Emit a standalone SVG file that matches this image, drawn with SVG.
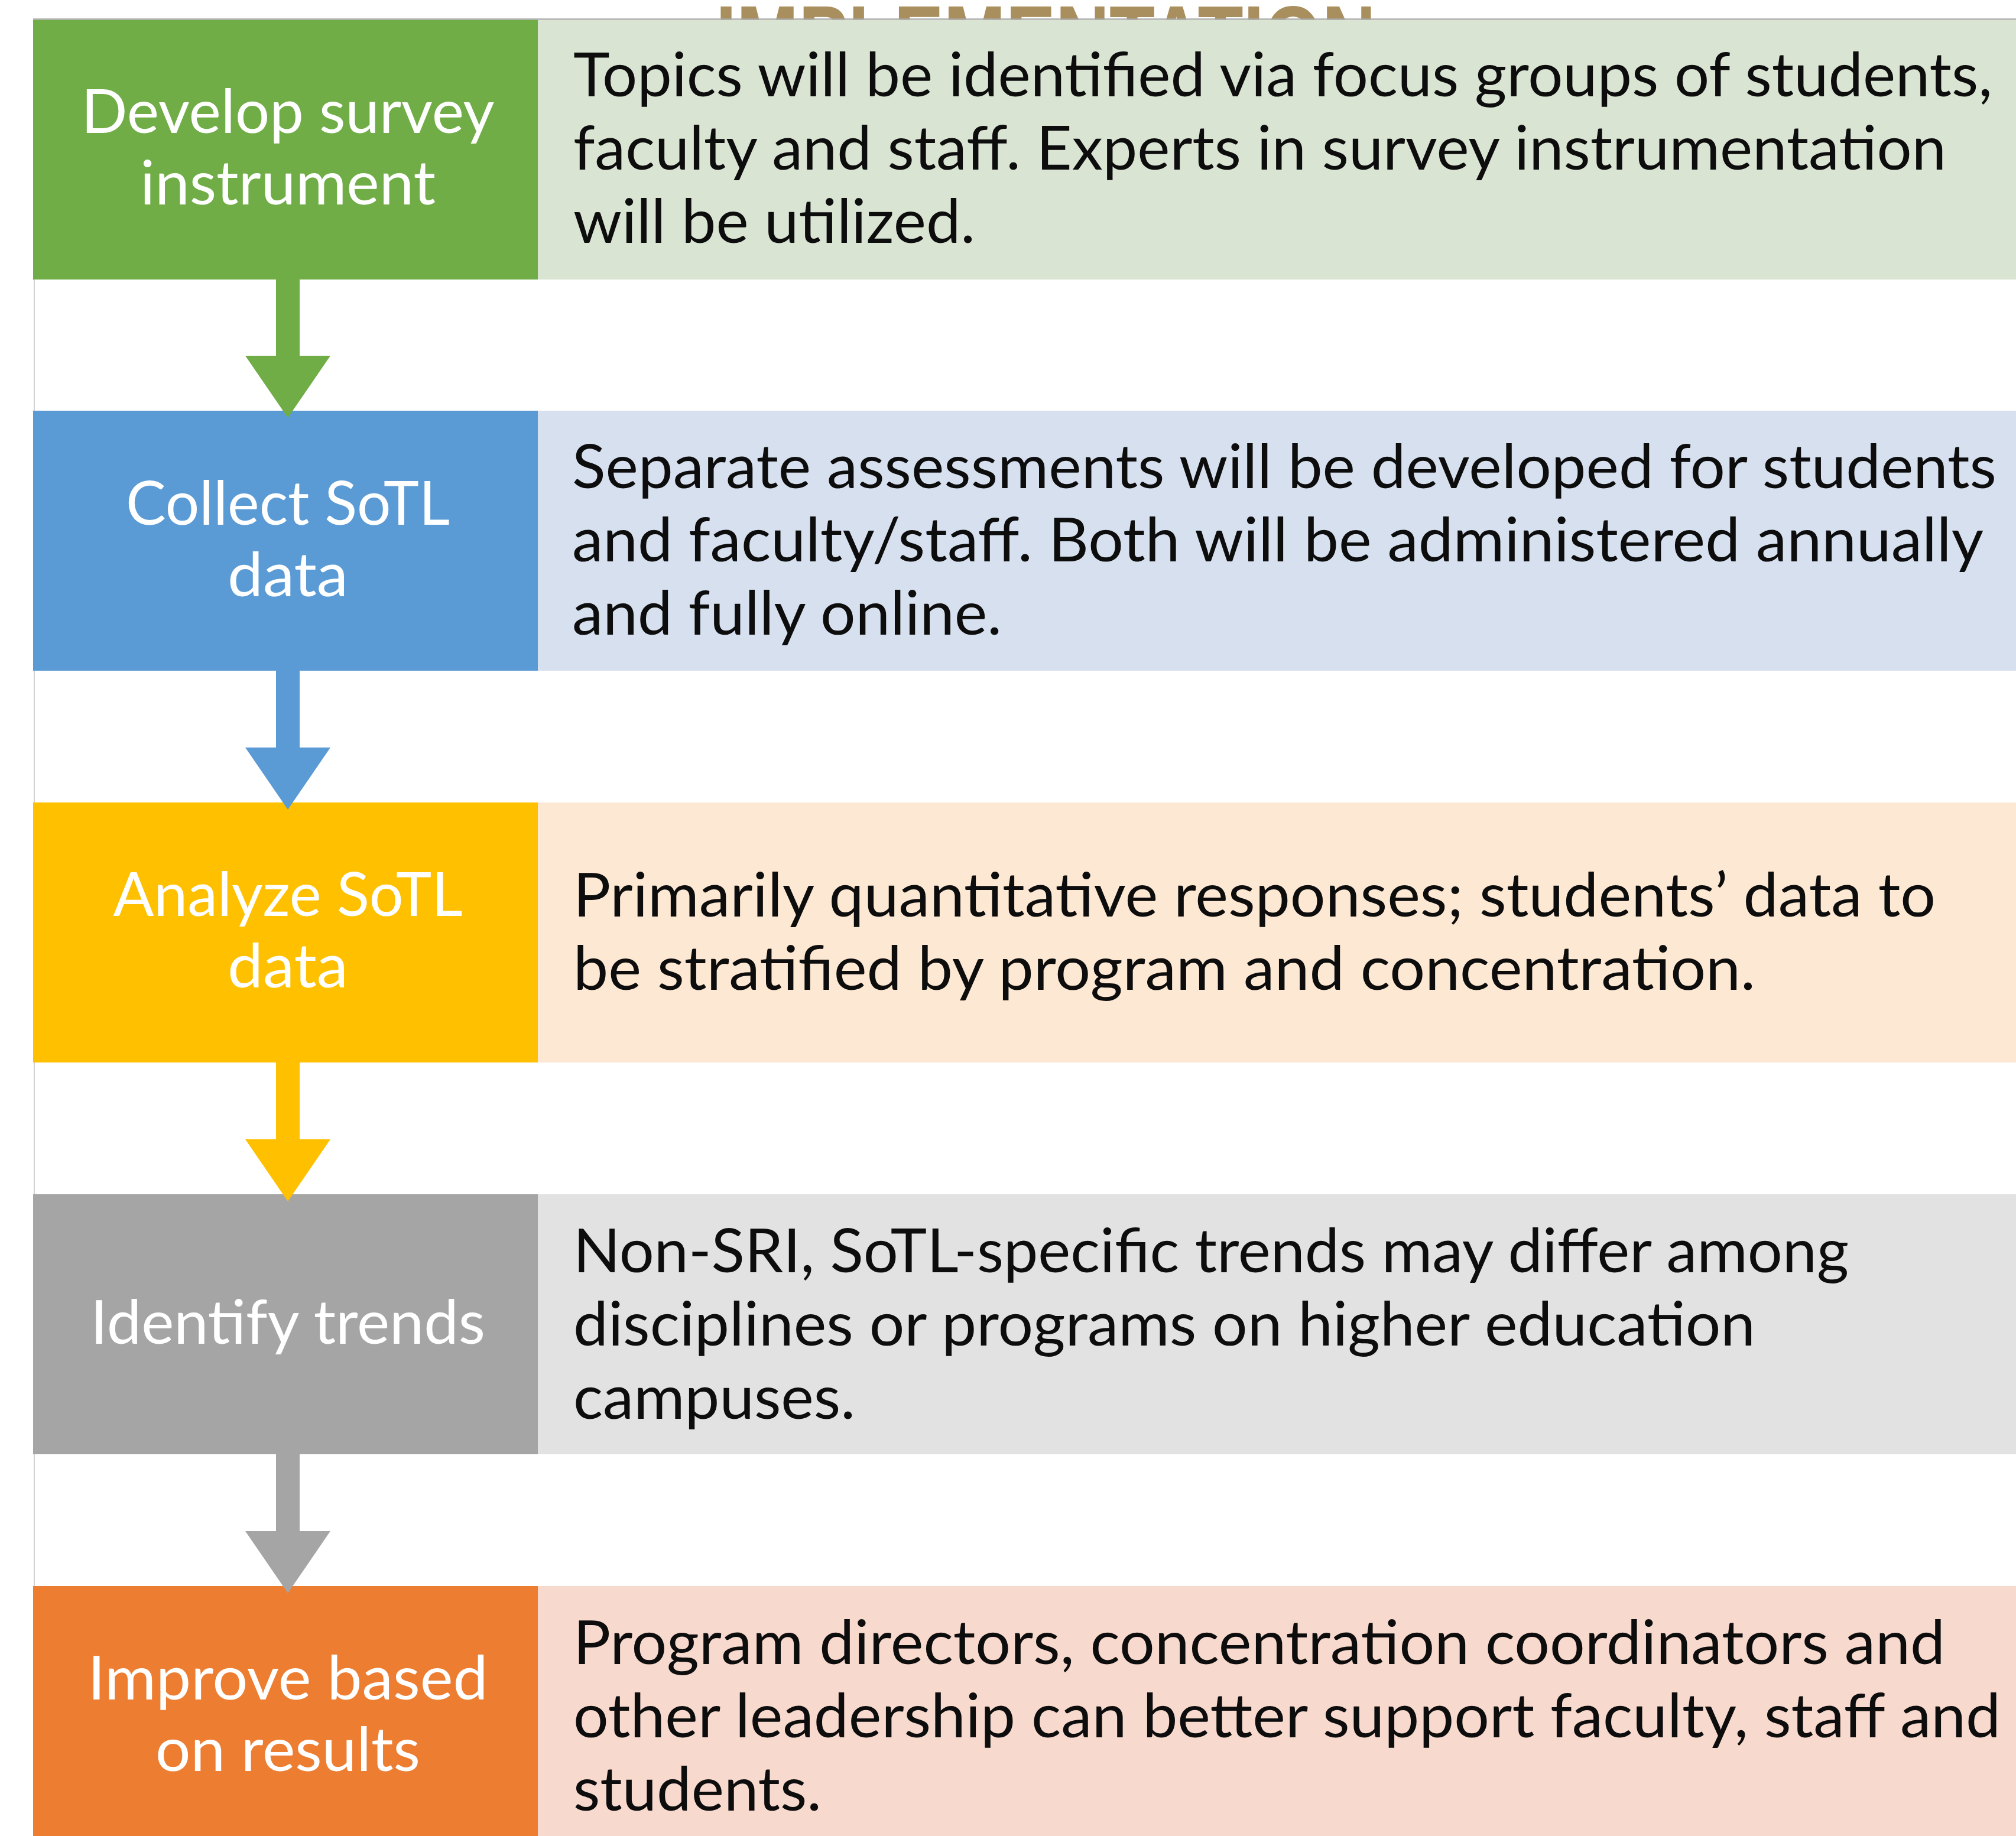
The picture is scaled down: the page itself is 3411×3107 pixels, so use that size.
<svg xmlns="http://www.w3.org/2000/svg" width="3411" height="3107" viewBox="0 0 3411 3107">
  <style>
    .lbl{font-family:Lato,"Open Sans","Liberation Sans",sans-serif;font-size:102px;fill:#ffffff;text-anchor:middle}
    .desc{font-family:Lato,"Open Sans","Liberation Sans",sans-serif;font-size:102px;fill:#0d0d0d}
    .title{font-family:"Liberation Sans",Arial,sans-serif;font-weight:bold;font-size:160px;fill:#a98f5d}
    .frame{stroke:#d2d2d2;stroke-width:2;fill:none}
  </style>
  <defs>
    <clipPath id="titleClip"><rect x="0" y="0" width="3411" height="33"/></clipPath>
  </defs>

  <rect x="0" y="0" width="3411" height="3107" fill="#ffffff"/>

  <!-- heading, mostly hidden behind the table -->
  <text class="title" x="1211" y="121" textLength="1117" lengthAdjust="spacingAndGlyphs" clip-path="url(#titleClip)">IMPLEMENTATION</text>

  <!-- left frame edge -->
  <line class="frame" x1="58" y1="33" x2="58" y2="3107"/>

  <g id="step1">
    <rect x="56" y="33" width="854" height="440" fill="#70ad47"/>
    <rect x="910" y="33" width="2501" height="440" fill="#d9e4d3"/>
    <text class="lbl" x="487" y="225" textLength="699" lengthAdjust="spacingAndGlyphs">Develop survey</text>
    <text class="lbl" x="487" y="346" textLength="500" lengthAdjust="spacingAndGlyphs">instrument</text>
    <text class="desc" x="970" y="163" textLength="2401" lengthAdjust="spacingAndGlyphs">Topics will be identified via focus groups of students,</text>
    <text class="desc" x="970" y="287" textLength="2323" lengthAdjust="spacingAndGlyphs">faculty and staff. Experts in survey instrumentation</text>
    <text class="desc" x="970" y="411" textLength="680" lengthAdjust="spacingAndGlyphs">will be utilized.</text>
  </g>

  <g id="step2">
    <rect x="56" y="695" width="854" height="440" fill="#5b9bd5"/>
    <rect x="910" y="695" width="2501" height="440" fill="#d6e0ef"/>
    <text class="lbl" x="487" y="888" textLength="548" lengthAdjust="spacingAndGlyphs">Collect SoTL</text>
    <text class="lbl" x="487" y="1009" textLength="204" lengthAdjust="spacingAndGlyphs">data</text>
    <text class="desc" x="968" y="826" textLength="2410" lengthAdjust="spacingAndGlyphs">Separate assessments will be developed for students</text>
    <text class="desc" x="968" y="950" textLength="2388" lengthAdjust="spacingAndGlyphs">and faculty/staff. Both will be administered annually</text>
    <text class="desc" x="968" y="1074" textLength="727" lengthAdjust="spacingAndGlyphs">and fully online.</text>
  </g>

  <g id="step3">
    <rect x="56" y="1358" width="854" height="440" fill="#ffc000"/>
    <rect x="910" y="1358" width="2501" height="440" fill="#fde8d3"/>
    <text class="lbl" x="487" y="1550" textLength="591" lengthAdjust="spacingAndGlyphs">Analyze SoTL</text>
    <text class="lbl" x="487" y="1671" textLength="204" lengthAdjust="spacingAndGlyphs">data</text>
    <text class="desc" x="970" y="1551" textLength="2305" lengthAdjust="spacingAndGlyphs">Primarily quantitative responses; students’ data to</text>
    <text class="desc" x="970" y="1675" textLength="2000" lengthAdjust="spacingAndGlyphs">be stratified by program and concentration.</text>
  </g>

  <g id="step4">
    <rect x="56" y="2021" width="854" height="440" fill="#a5a5a5"/>
    <rect x="910" y="2021" width="2501" height="440" fill="#e2e2e2"/>
    <text class="lbl" x="487" y="2274" textLength="668" lengthAdjust="spacingAndGlyphs">Identify trends</text>
    <text class="desc" x="970" y="2153" textLength="2158" lengthAdjust="spacingAndGlyphs">Non-SRI, SoTL-specific trends may differ among</text>
    <text class="desc" x="970" y="2277" textLength="2000" lengthAdjust="spacingAndGlyphs">disciplines or programs on higher education</text>
    <text class="desc" x="970" y="2401" textLength="477" lengthAdjust="spacingAndGlyphs">campuses.</text>
  </g>

  <g id="step5">
    <rect x="56" y="2684" width="854" height="423" fill="#ed7d31"/>
    <rect x="910" y="2684" width="2501" height="423" fill="#f8d9ce"/>
    <text class="lbl" x="487" y="2876" textLength="677" lengthAdjust="spacingAndGlyphs">Improve based</text>
    <text class="lbl" x="487" y="2997" textLength="448" lengthAdjust="spacingAndGlyphs">on results</text>
    <text class="desc" x="970" y="2816" textLength="2321" lengthAdjust="spacingAndGlyphs">Program directors, concentration coordinators and</text>
    <text class="desc" x="970" y="2940" textLength="2415" lengthAdjust="spacingAndGlyphs">other leadership can better support faculty, staff and</text>
    <text class="desc" x="970" y="3064" textLength="420" lengthAdjust="spacingAndGlyphs">students.</text>
  </g>

  <!-- block arrows between steps -->
  <g id="connectors">
    <path d="M467,471 L507,471 L507,602 L559,602 L487,707 L415,602 L467,602 Z" fill="#70ad47"/>
    <path d="M467,1133 L507,1133 L507,1265 L559,1265 L487,1370 L415,1265 L467,1265 Z" fill="#5b9bd5"/>
    <path d="M467,1796 L507,1796 L507,1928 L559,1928 L487,2033 L415,1928 L467,1928 Z" fill="#ffc000"/>
    <path d="M467,2459 L507,2459 L507,2591 L559,2591 L487,2696 L415,2591 L467,2591 Z" fill="#a5a5a5"/>
  </g>

  <!-- top rule of the table -->
  <rect x="56" y="31" width="3355" height="3" fill="#a8a8a8" opacity="0.75"/>
</svg>
